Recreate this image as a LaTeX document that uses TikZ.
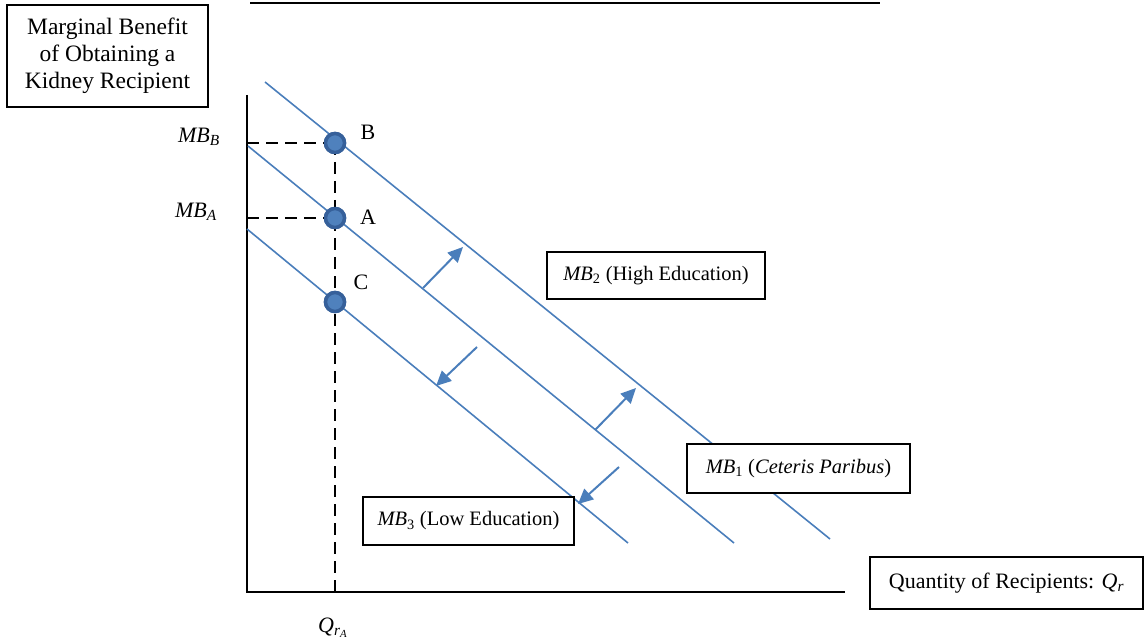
\documentclass[tikz,border=0pt]{standalone}
\usepackage{fontspec}
\setmainfont{Liberation Serif}
\usetikzlibrary{arrows.meta}
\definecolor{lineblue}{HTML}{4A7EBB}
\definecolor{dotring}{HTML}{36609A}
\definecolor{dotfill}{HTML}{4F81BD}
\newcommand\mbsym[1]{\textit{MB}\textsubscript{#1}}
\begin{document}
\begin{tikzpicture}[x=1pt,y=-1pt,
  lbl/.style={font=\fontsize{22}{26}\selectfont, inner sep=0pt},
  boxlbl/.style={draw=black, line width=1.2pt, fill=white, font=\fontsize{20.5}{24}\selectfont, inner sep=0pt, align=center},
  curve/.style={draw=lineblue, line width=1.6pt},
  shiftarrow/.style={draw=lineblue, line width=2pt, -{Triangle[length=15pt,width=14pt]}},
  dot/.style={circle, fill=dotfill, draw=dotring, line width=3.5pt, minimum size=19pt, inner sep=0pt},
  guide/.style={dash pattern=on 12pt off 7pt, line width=2pt}
]
\useasboundingbox (0,0) rectangle (1145,644);
% top rule
\coordinate (t1) at (250,3);
\coordinate (t2) at (880,3);
\draw[line width=2pt] (t1) -- (t2);
% axes
\coordinate (ytop) at (247,95);
\coordinate (orig) at (247,592);
\coordinate (xend) at (845,592);
\draw[line width=1.5pt] (ytop) -- (orig) -- (xend);
% demand lines
\coordinate (m2s) at (265,82);
\coordinate (m2e) at (830,539);
\coordinate (m1s) at (248,146);
\coordinate (m1e) at (734,543);
\coordinate (m3s) at (247,229);
\coordinate (m3e) at (628,543);
\draw[curve] (m2s) -- (m2e);
\draw[curve] (m1s) -- (m1e);
\draw[curve] (m3s) -- (m3e);
% guides
\node[dot] (B) at (335,143) {};
\node[dot] (A) at (335,218) {};
\node[dot] (C) at (335,302) {};
\coordinate (yB) at (247,143);
\coordinate (yA) at (247,218);
\coordinate (xQ) at (335,591);
\draw[guide] (yB) -- (B.center);
\draw[guide] (yA) -- (A.center);
\draw[guide] (B.center) -- (xQ);
\node[dot] at (B) {};
\node[dot] at (A) {};
\node[dot] at (C) {};
% point labels
\node[lbl] (lB) at (368,132) {B};
\node[lbl] (lA) at (368,217) {A};
\node[lbl] (lC) at (361,282) {C};
\node[lbl] (lMBB) at (199,137) {\mbsym{\textit{B}}};
\node[lbl] (lMBA) at (196,212) {\mbsym{\textit{A}}};
\node[lbl] (lQ) at (333,628) {\textit{Q}\textsubscript{\textit{r}\textsubscript{\textit{A}}}};
% shift arrows
\coordinate (a1s) at (423,288);
\coordinate (a1e) at (463,247);
\coordinate (a2s) at (477,347);
\coordinate (a2e) at (436,386);
\coordinate (a3s) at (595,430);
\coordinate (a3e) at (636,388);
\coordinate (a4s) at (619,467);
\coordinate (a4e) at (578,504);
\draw[shiftarrow] (a1s) -- (a1e);
\draw[shiftarrow] (a2s) -- (a2e);
\draw[shiftarrow] (a3s) -- (a3e);
\draw[shiftarrow] (a4s) -- (a4e);
% boxes
\node[boxlbl, minimum width=201pt, minimum height=102pt, font=\fontsize{23.5}{27}\selectfont] (ylab) at (107.5,56) {Marginal Benefit\\of Obtaining a\\Kidney Recipient};
\node[boxlbl, minimum width=218pt, minimum height=47pt] (b2) at (656,275.5) {\mbsym{2} (High Education)};
\node[boxlbl, minimum width=223pt, minimum height=49pt] (b1) at (798.5,468.5) {\mbsym{1} (\textit{Ceteris Paribus})};
\node[boxlbl, minimum width=211pt, minimum height=48pt] (b3) at (468.5,521) {\mbsym{3} (Low Education)};
\node[boxlbl, minimum width=273pt, minimum height=52pt, font=\fontsize{22}{26}\selectfont] (xlab) at (1006.5,583) {Quantity of Recipients: \textit{Q}\textsubscript{\textit{r}}};
\end{tikzpicture}
\end{document}
